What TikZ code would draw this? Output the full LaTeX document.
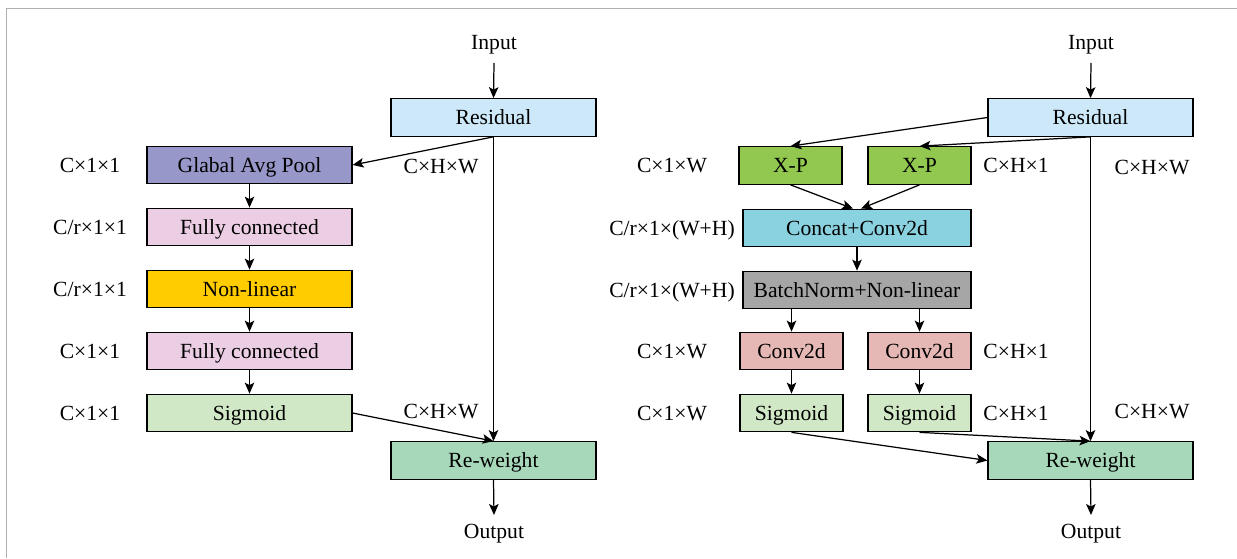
\documentclass[tikz,border=0pt]{standalone}
\usepackage{fontspec}
\setmainfont{Liberation Serif}
\usetikzlibrary{arrows.meta}
\definecolor{cResidual}{RGB}{205,233,249}
\definecolor{cPool}{RGB}{151,151,201}
\definecolor{cFC}{RGB}{236,206,228}
\definecolor{cNonlin}{RGB}{255,204,0}
\definecolor{cSig}{RGB}{209,232,198}
\definecolor{cReweight}{RGB}{168,216,186}
\definecolor{cXP}{RGB}{146,200,80}
\definecolor{cConcat}{RGB}{139,210,224}
\definecolor{cBN}{RGB}{166,166,166}
\definecolor{cConv}{RGB}{229,184,181}
\definecolor{cFrame}{RGB}{176,176,176}
\begin{document}
\begin{tikzpicture}[x=0.02cm,y=-0.02cm,
  font=\fontsize{12.3}{14}\selectfont,
  every node/.style={text height=8.1pt, text depth=0pt},
  box/.style={draw=black, line width=0.7pt, inner sep=0pt, minimum height=0.75cm},
  wide/.style={box, minimum width=4.1cm},
  mid/.style={box, minimum width=4.56cm},
  narrow/.style={box, minimum width=2.06cm},
  lbl/.style={inner sep=0pt},
  arr/.style={line width=0.7pt, -{Stealth[length=2.2mm,width=1.9mm,inset=0.5mm]}}]
\useasboundingbox (0,0) rectangle (1237,558);
% frame
\draw[cFrame, line width=0.8pt] (6.5,558) -- (6.5,8.5) -- (1237,8.5);

% ---------- SE block ----------
\node[lbl] (inL) at (494,42) {Input};
\node[wide, fill=cResidual] (resL) at (493.5,117.5) {Residual};
\node[wide, fill=cPool] (gap) at (249.5,165) {Glabal Avg Pool};
\node[wide, fill=cFC] (fc1) at (249.5,227) {Fully connected};
\node[wide, fill=cNonlin] (nl) at (249.5,289) {Non-linear};
\node[wide, fill=cFC] (fc2) at (249.5,351) {Fully connected};
\node[wide, fill=cSig] (sigL) at (249.5,413) {Sigmoid};
\node[wide, fill=cReweight] (rwL) at (493.5,460.5) {Re-weight};
\node[lbl] (outL) at (494,531) {Output};

\node[lbl] (l1) at (90,165) {C×1×1};
\node[lbl] (l2) at (90,227) {C/r×1×1};
\node[lbl] (l3) at (90,289) {C/r×1×1};
\node[lbl] (l4) at (90,351) {C×1×1};
\node[lbl] (l5) at (90,413) {C×1×1};
\node[lbl] (l6) at (441,166) {C×H×W};
\node[lbl] (l7) at (441,411) {C×H×W};

\coordinate (inLs) at (494,63);
\coordinate (outLe) at (494,515);
\draw[arr] (inLs) -- (resL.north);
\draw[arr] (resL.south) -- (gap.east);
\draw[arr] (resL.south) -- (rwL.north);
\draw[arr] (gap) -- (fc1);
\draw[arr] (fc1) -- (nl);
\draw[arr] (nl) -- (fc2);
\draw[arr] (fc2) -- (sigL);
\draw[arr] (sigL.east) -- (rwL.north);
\draw[arr] (rwL.south) -- (outLe);

% ---------- coordinate attention block ----------
\node[lbl] (inR) at (1091,42) {Input};
\node[wide, fill=cResidual] (resR) at (1090.5,117.5) {Residual};
\node[narrow, fill=cXP] (xp1) at (790.5,165.5) {X-P};
\node[narrow, fill=cXP] (xp2) at (919.5,165.5) {X-P};
\node[mid, fill=cConcat] (cc) at (857,228) {Concat+Conv2d};
\node[mid, fill=cBN] (bn) at (857,290) {BatchNorm+Non-linear};
\node[narrow, fill=cConv] (cv1) at (791.5,351) {Conv2d};
\node[narrow, fill=cConv] (cv2) at (919.5,351) {Conv2d};
\node[narrow, fill=cSig] (sg1) at (791.5,413) {Sigmoid};
\node[narrow, fill=cSig] (sg2) at (919.5,413) {Sigmoid};
\node[wide, fill=cReweight] (rwR) at (1090.5,460.5) {Re-weight};
\node[lbl] (outR) at (1091,531) {Output};

\node[lbl] (r1) at (672,165) {C×1×W};
\node[lbl] (r2) at (1016,165) {C×H×1};
\node[lbl] (r3) at (1152,167) {C×H×W};
\node[lbl] (r4) at (672,228) {C/r×1×(W+H)};
\node[lbl] (r5) at (672,290) {C/r×1×(W+H)};
\node[lbl] (r6) at (672,351) {C×1×W};
\node[lbl] (r7) at (1016,351) {C×H×1};
\node[lbl] (r8) at (672,413) {C×1×W};
\node[lbl] (r9) at (1016,413) {C×H×1};
\node[lbl] (r10) at (1152,411) {C×H×W};

\coordinate (inRs) at (1091,63);
\coordinate (outRe) at (1091,515);
\draw[arr] (inRs) -- (resR.north);
\draw[arr] (resR.west) -- (xp1.north);
\draw[arr] (resR.south) -- (xp2.north);
\draw[arr] (xp1.south) -- ([xshift=-0.08cm]cc.north);
\draw[arr] (xp2.south) -- ([xshift=0.08cm]cc.north);
\draw[arr] (cc) -- (bn);
\draw[arr] (bn.south -| cv1.north) -- (cv1.north);
\draw[arr] (bn.south -| cv2.north) -- (cv2.north);
\draw[arr] (cv1) -- (sg1);
\draw[arr] (cv2) -- (sg2);
\draw[arr] (resR.south) -- (rwR.north);
\draw[arr] (sg1.south) -- (rwR.west);
\draw[arr] (sg2.south) -- (rwR.north);
\draw[arr] (rwR.south) -- (outRe);
\end{tikzpicture}
\end{document}
